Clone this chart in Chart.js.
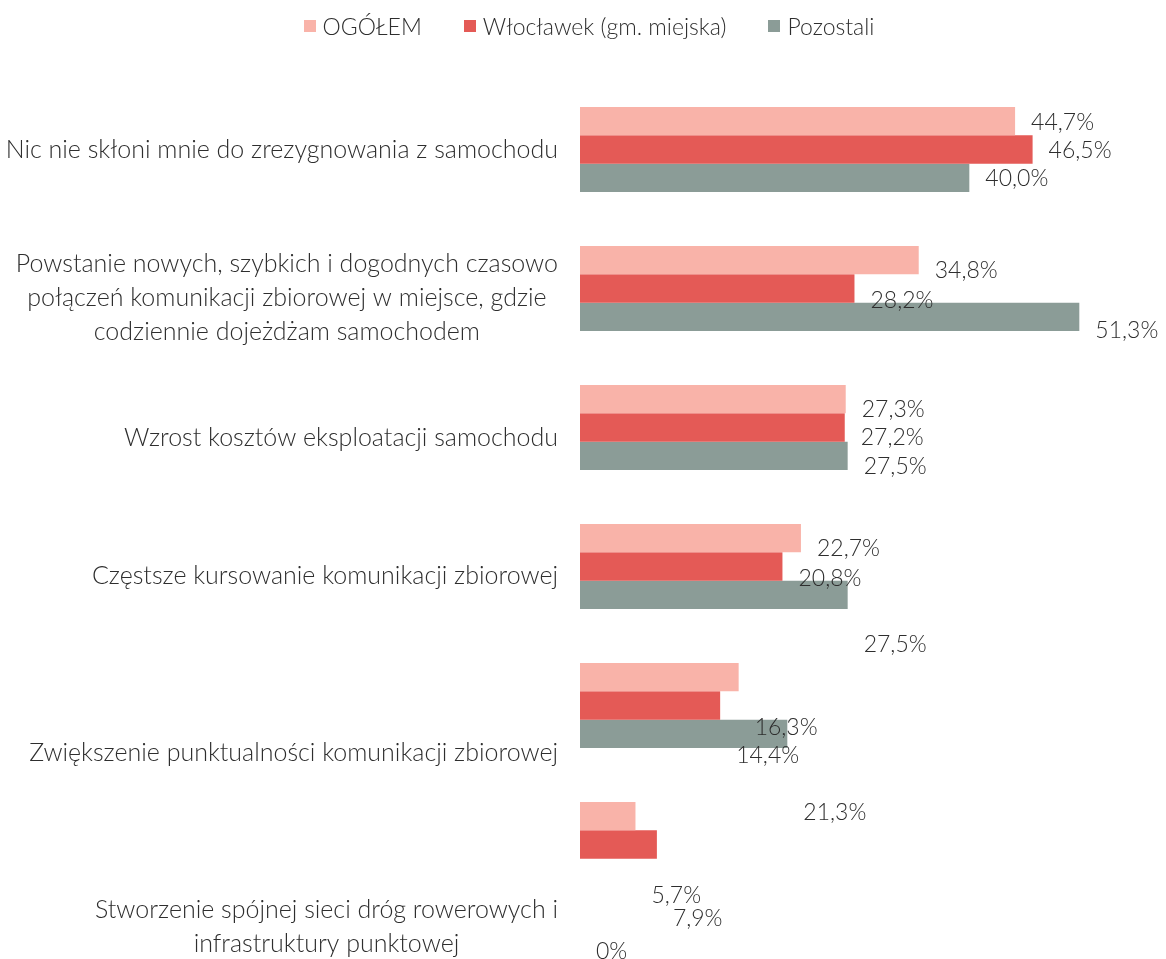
<!DOCTYPE html>
<html lang="pl">
<head>
    <meta charset="UTF-8">
    <title>Czynniki rezygnacji z samochodu</title>
    <style>
        body {
            margin: 0;
            background: #fff;
            font-family: Lato, "Open Sans", sans-serif;
        }

        .wrap {
            position: relative;
            width: 1166px;
            height: 959px;
        }

        #legend {
            position: absolute;
            top: 12px;
            left: 6px;
            width: 1166px;
            display: flex;
            justify-content: center;
            gap: 42px;
            font-size: 23px;
            font-weight: 300;
            color: #2e2e2e;
        }

        .legend-item {
            display: flex;
            align-items: center;
        }

        .legend-box {
            width: 12px;
            height: 12px;
            margin-right: 7px;
        }

        canvas {
            position: absolute;
            top: 0;
            left: 0;
        }
    </style>
</head>
<body>

<div class="wrap">
    <canvas id="chart" width="1166" height="959"></canvas>
    <div id="legend"></div>
</div>

<script src="https://cdn.jsdelivr.net/npm/chart.js"></script>
<script>
    // categories (line breaks as in the original)
    const categories = [
        ['Nic nie skłoni mnie do zrezygnowania z samochodu'],
        ['Powstanie nowych, szybkich i dogodnych czasowo', 'połączeń komunikacji zbiorowej w miejsce, gdzie', 'codziennie dojeżdżam samochodem'],
        ['Wzrost kosztów eksploatacji samochodu'],
        ['Częstsze kursowanie komunikacji zbiorowej'],
        ['Zwiększenie punktualności komunikacji zbiorowej'],
        ['Stworzenie spójnej sieci dróg rowerowych i', 'infrastruktury punktowej']
    ];

    const seriesNames = ['OGÓŁEM', 'Włocławek (gm. miejska)', 'Pozostali'];

    const ogolem = [44.7, 34.8, 27.3, 22.7, 16.3, 5.7];
    const wloclawek = [46.5, 28.2, 27.2, 20.8, 14.4, 7.9];
    const pozostali = [40.0, 51.3, 27.5, 27.5, 21.3, 0];

    const colors = ['#f9b3a9', '#e45a56', '#8b9c97'];

    // the original labels drift downwards (per category: ogółem, włocławek, pozostali)
    const labelDrift = [
        [1, 1, 1],
        [10, 12, 14],
        [10, 10, 11],
        [10, 12, 50],
        [50, 50, 79],
        [79, 74, 79]
    ];
    const categoryDrift = [0, 9, 10, 9, 47, 82];

    const VALUE_FONT = '300 23px Lato, "Open Sans", sans-serif';
    const CAT_FONT = '300 25px Lato, "Open Sans", sans-serif';

    const fmt = v => v === 0 ? '0%' : v.toFixed(1).replace('.', ',') + '%';

    // html legend
    const legendEl = document.getElementById('legend');
    seriesNames.forEach((name, i) => {
        const item = document.createElement('div');
        item.className = 'legend-item';
        const box = document.createElement('span');
        box.className = 'legend-box';
        box.style.background = colors[i];
        item.appendChild(box);
        item.appendChild(document.createTextNode(name));
        legendEl.appendChild(item);
    });

    // draws value labels and category labels
    const textPlugin = {
        id: 'textPlugin',
        afterDatasetsDraw(chart) {
            const ctx = chart.ctx;
            ctx.save();
            ctx.fillStyle = '#2e2e2e';
            ctx.textBaseline = 'middle';

            ctx.font = VALUE_FONT;
            ctx.textAlign = 'left';
            chart.data.datasets.forEach((ds, i) => {
                chart.getDatasetMeta(i).data.forEach((bar, j) => {
                    ctx.fillText(fmt(ds.data[j]), bar.x + 16, bar.y + labelDrift[j][i]);
                });
            });

            ctx.font = CAT_FONT;
            ctx.textAlign = 'center';
            const yScale = chart.scales.y;
            const lineH = 34;
            categories.forEach((lines, j) => {
                const maxW = Math.max(...lines.map(l => ctx.measureText(l).width));
                const cx = 558 - maxW / 2;
                const cy = yScale.getPixelForValue(j) + categoryDrift[j];
                const top = cy - (lines.length - 1) * lineH / 2;
                lines.forEach((l, k) => ctx.fillText(l, cx, top + k * lineH));
            });
            ctx.restore();
        }
    };

    const chart = new Chart(document.getElementById('chart'), {
        type: 'bar',
        data: {
            labels: categories,
            datasets: [
                { label: seriesNames[0], data: ogolem, backgroundColor: colors[0] },
                { label: seriesNames[1], data: wloclawek, backgroundColor: colors[1] },
                { label: seriesNames[2], data: pozostali, backgroundColor: colors[2] }
            ]
        },
        options: {
            indexAxis: 'y',
            responsive: false,
            animation: false,
            layout: {
                padding: { left: 580, right: 2, top: 80, bottom: 45 }
            },
            datasets: {
                bar: {
                    barPercentage: 1,
                    categoryPercentage: 0.612,
                    borderWidth: 0
                }
            },
            scales: {
                x: { display: false, min: 0, max: 60 },
                y: { display: false }
            },
            plugins: {
                legend: { display: false },
                tooltip: { enabled: false }
            }
        },
        plugins: [textPlugin]
    });
</script>

</body>
</html>
